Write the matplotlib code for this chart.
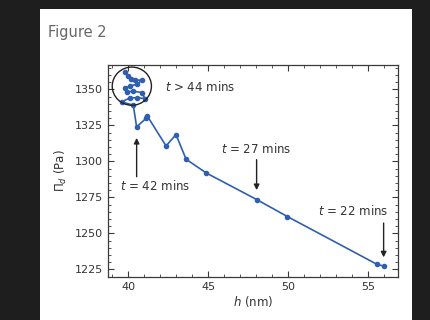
import numpy as np
import matplotlib
matplotlib.use('Agg')
import matplotlib.pyplot as plt
from matplotlib.patches import Rectangle, Ellipse
from matplotlib.ticker import MultipleLocator

# film thickness h (nm) and disjoining pressure (Pa), in time order
h_nm = [56.0, 55.56, 49.94, 48.02, 44.86, 43.61, 42.98, 42.36, 41.19, 41.1, 40.52,
        40.31, 39.59, 40.1, 40.56, 41.04, 40.84, 40.31, 39.9, 39.79, 40.1,
        40.52, 40.84, 40.42, 40.15, 40.0, 39.79]
pi_d = [1227.3, 1228.5, 1261.8, 1273.6, 1292.1, 1301.6, 1318.7, 1310.8, 1331.5, 1329.9, 1324.0,
        1339.1, 1341.4, 1344.2, 1344.2, 1343.7, 1347.9, 1348.8, 1348.3, 1350.7, 1352.5,
        1353.5, 1356.5, 1356.5, 1357.6, 1359.4, 1361.8]

x_ticks = [40, 45, 50, 55]
y_ticks = [1225, 1250, 1275, 1300, 1325, 1350]

blue = '#2f5fb0'
grey = '#3a3a3a'

plt.rcParams['mathtext.fontset'] = 'dejavusans'

fig = plt.figure(figsize=(4.3, 3.2), dpi=100, facecolor='#1e1e1e')
fig.patches.append(Rectangle((40 / 430, 0), 372 / 430, 311 / 320,
                             transform=fig.transFigure, facecolor='white',
                             edgecolor='none', zorder=-10))
fig.text(48 / 430, 1 - 33 / 320, 'Figure 2', fontsize=10.5, color='#666666',
         va='center', ha='left')

ax = fig.add_axes([108 / 430, 1 - 276.7 / 320, 289.7 / 430, 211.7 / 320])
ax.plot(h_nm, pi_d, color=blue, lw=1.2, marker='o', ms=3, zorder=3)

ax.set_xlim(38.73, 56.84)
ax.set_ylim(1220, 1367)
ax.set_xticks(x_ticks)
ax.set_yticks(y_ticks)
ax.xaxis.set_minor_locator(MultipleLocator(1))
ax.yaxis.set_minor_locator(MultipleLocator(5))
ax.tick_params(which='both', direction='in', top=True, right=True,
               colors=grey, labelsize=8, labelcolor='#333333')
ax.tick_params(which='major', length=4, width=0.8)
ax.tick_params(which='minor', length=2, width=0.6)
for s in ax.spines.values():
    s.set_color(grey)
    s.set_linewidth(0.9)

ax.set_xlabel(r'$h$ (nm)', fontsize=8.5, color='#333333', labelpad=2)
ax.set_ylabel(r'$\Pi_d$ (Pa)', fontsize=8.5, color='#333333', labelpad=4)

# circle around the late-time cluster
ax.add_patch(Ellipse((40.22, 1352.3), 2.45, 26.5, fill=False, edgecolor='#222222',
                     lw=1.0, zorder=4))

arrow = dict(arrowstyle='-|>', color='#222222', lw=1.0, mutation_scale=8)
ax.annotate('', xy=(40.52, 1318.3), xytext=(40.52, 1287.5), arrowprops=arrow)
ax.annotate('', xy=(48.02, 1278.2), xytext=(48.02, 1303.2), arrowprops=arrow)
ax.annotate('', xy=(55.96, 1231.5), xytext=(55.96, 1259.2), arrowprops=arrow)

txt = dict(fontsize=8.5, color='#333333', ha='center', va='center')
ax.text(44.48, 1351.8, r'$t$ > 44 mins', **txt)
ax.text(41.67, 1282.8, r'$t$ = 42 mins', **txt)
ax.text(48.0, 1309.0, r'$t$ = 27 mins', **txt)
ax.text(54.06, 1265.7, r'$t$ = 22 mins', **txt)

fig.savefig('out.png', dpi=100, facecolor=fig.get_facecolor())
